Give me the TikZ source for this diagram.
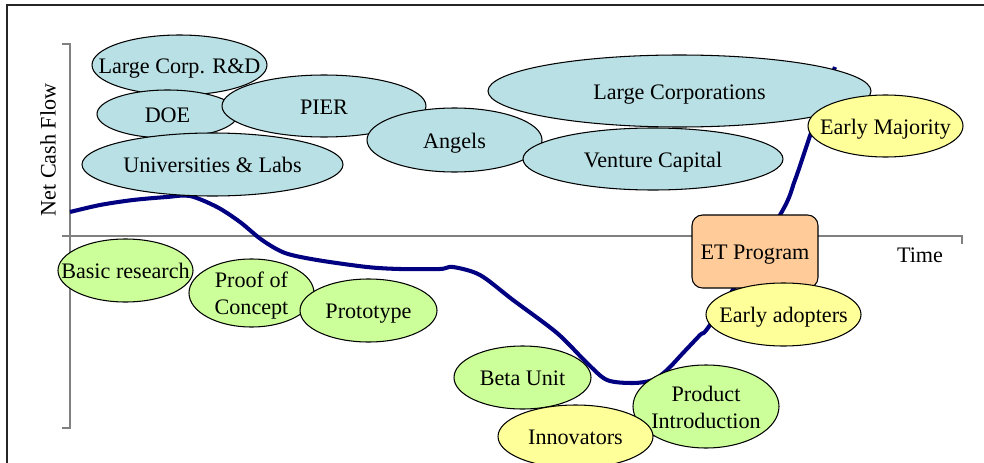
\documentclass[tikz,border=0pt]{standalone}
\usepackage{fontspec}
\setmainfont{Liberation Serif}
\usetikzlibrary{shapes.geometric}
\definecolor{fundblue}{HTML}{B9E0E4}
\definecolor{stagegreen}{HTML}{CCFF99}
\definecolor{adoptyellow}{HTML}{FFFF99}
\definecolor{etpeach}{HTML}{FFCC99}
\definecolor{cashnavy}{HTML}{000080}
\begin{document}
\begin{tikzpicture}[x=0.02cm,y=-0.02cm,
	font=\fontsize{12.6}{15.5}\selectfont,
	bubble/.style 2 args={ellipse,draw=black,line width=0.6pt,inner sep=-40pt,align=center,
		text height=9.6pt,text depth=0pt,
		minimum width=#1*0.02cm,minimum height=#2*0.02cm},
	fund/.style={fill=fundblue},
	stage/.style={fill=stagegreen},
	adopt/.style={fill=adoptyellow}]
	\useasboundingbox (0,0) rectangle (984,463);
	% frame
	\draw[line width=1.2pt,black!85] (7,463) -- (7,5) -- (984,5);
	% axes
	\draw[line width=0.9pt,black!50] (62,44) -- (70,44) -- (70,428) -- (62,428);
	\draw[line width=0.9pt,black!50] (62,236) -- (962,236) -- (962,244);
	\node[rotate=90] (ncf) at (48,150) {Net Cash Flow};
	\node (time) at (920,255) {Time};
	% net cash flow over time
	\draw[cashnavy,line width=2.3pt,line join=round] plot[smooth,tension=0.5] coordinates {
		(70,212) (100,205) (133,200) (167,197) (190,196) (217,207) (240,222) (262,240)
		(285,253) (317,260) (367,267) (400,269) (440,269) (453,267) (480,275) (513,300)
		(557,333) (587,363) (607,380) (633,383) (653,380) (667,370) (683,353) (700,335)
		(712,322) (780,215) (795,180) (811,133) (835,67)};
	% funding sources
	\node[bubble={175}{60},fund] (rnd) at (179.5,65) {Large Corp. R\&D};
	\node[bubble={141}{48},fund] (doe) at (167.5,114) {DOE};
	\node[bubble={204}{62},fund] (pier) at (324,106) {PIER};
	\node[bubble={261}{63},fund] (unis) at (212.5,164.5) {Universities \& Labs};
	\node[bubble={175}{64},fund] (angels) at (454.5,140) {Angels};
	\node[bubble={383}{72},fund] (largecorp) at (679.5,91) {Large Corporations};
	\node[bubble={260}{62},fund] (venture) at (653,159) {Venture Capital};
	% development stages
	\node[bubble={135}{63},stage] (basic) at (125.5,270.5) {Basic research};
	\node[bubble={125}{68},stage,text height=25pt] (proof) at (251.5,293) {Proof of\\Concept};
	\node[bubble={137}{63},stage] (proto) at (368.5,310.5) {Prototype};
	\node[bubble={137}{63},stage] (beta) at (522.5,377.5) {Beta Unit};
	\node[bubble={146}{83},stage,text height=25.6pt] (prodintro) at (706,406.5) {Product\\Introduction};
	% market adoption
	\node[bubble={155}{63},adopt] (innov) at (575.5,436.5) {Innovators};
	\node[draw=black,line width=0.6pt,fill=etpeach,rounded corners=6pt,text height=9.6pt,text depth=0pt,
		minimum width=126*0.02cm,minimum height=73*0.02cm] (etprog) at (755,251.5) {ET Program};
	\node[bubble={155}{63},adopt] (earlyad) at (783.5,314.5) {Early adopters};
	\node[bubble={155}{62},adopt] (earlymaj) at (885.5,126) {Early Majority};
\end{tikzpicture}
\end{document}
